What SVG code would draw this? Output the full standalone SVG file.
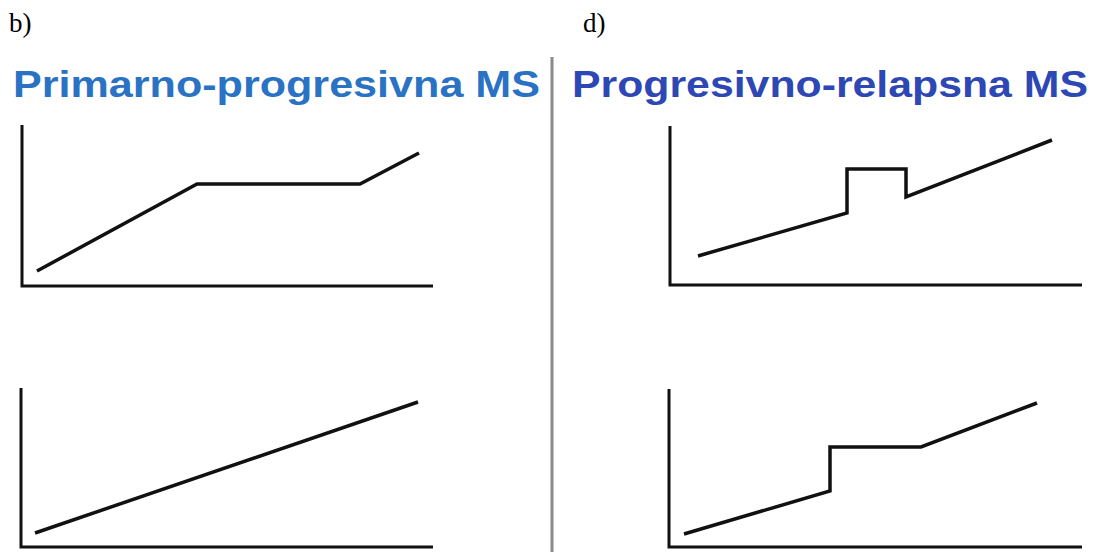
<svg xmlns="http://www.w3.org/2000/svg" width="1093" height="552" viewBox="0 0 1093 552">
<style>
.lbl{font-family:"Liberation Serif",serif;font-size:27px;fill:#000}
.ttl{font-family:"Liberation Sans",Arial,sans-serif;font-size:36px;font-weight:bold}
.axis{fill:none;stroke:#111;stroke-width:3}
.curve{fill:none;stroke:#111;stroke-width:3.5;stroke-linejoin:miter}
</style>
<rect width="1093" height="552" fill="#fff"/>
<text class="lbl" x="9" y="32">b)</text>
<text class="lbl" x="583" y="32">d)</text>
<text class="ttl" x="13" y="97" fill="#2a72c4" textLength="527" lengthAdjust="spacingAndGlyphs">Primarno-progresivna MS</text>
<text class="ttl" x="572" y="97" fill="#2d47b5" textLength="516" lengthAdjust="spacingAndGlyphs">Progresivno-relapsna MS</text>
<line x1="552" y1="57" x2="552" y2="552" stroke="#8a8a8a" stroke-width="3"/>
<g id="chart-b-top">
<path class="axis" d="M22 125 V286 H433"/>
<path class="curve" d="M37 271 L197 184 L360 184 L419 153"/>
</g>
<g id="chart-b-bottom">
<path class="axis" d="M21 388 V547 H433"/>
<path class="curve" d="M35 533 L418 402"/>
</g>
<g id="chart-d-top">
<path class="axis" d="M670 126 V285 H1082"/>
<path class="curve" d="M698 256 L847 213 L847 169 L906 169 L906 197 L1052 140"/>
</g>
<g id="chart-d-bottom">
<path class="axis" d="M669 389 V547 H1082"/>
<path class="curve" d="M684 534 L830 491 L830 447 L921 447 L1037 403"/>
</g>
</svg>
